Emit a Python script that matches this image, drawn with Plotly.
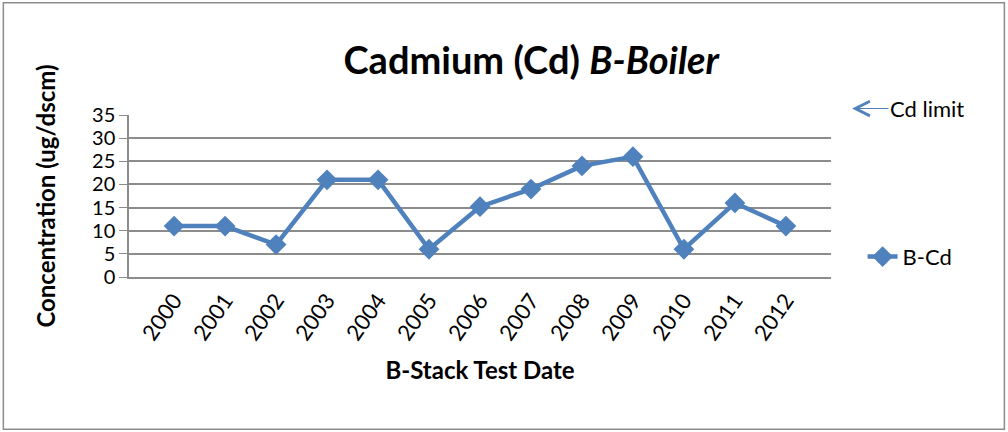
import plotly.graph_objects as go

years = ["2000", "2001", "2002", "2003", "2004", "2005", "2006",
         "2007", "2008", "2009", "2010", "2011", "2012"]
b_cd = [11, 11, 7, 21, 21, 6, 15.2, 19, 24, 26, 6, 16, 11]

blue = "#4F81BD"
grid = "#8C8C8C"
font_family = "Lato, 'Open Sans', sans-serif"

fig = go.Figure()

# B-Cd concentration per test year
fig.add_trace(
    go.Scatter(
        x=years,
        y=b_cd,
        mode="lines+markers",
        name="B-Cd",
        line=dict(color=blue, width=4.5),
        marker=dict(symbol="diamond", size=16, color=blue),
    )
)

# Cd limit legend entry (arrow, drawn as an annotation)
fig.add_annotation(
    xref="paper", yref="paper",
    x=1.03, y=1.04,
    ax=75, ay=0,
    text="Cd limit",
    showarrow=True,
    arrowhead=5,
    arrowsize=2.4,
    arrowwidth=1.2,
    arrowcolor=blue,
    font=dict(size=22, color="black"),
)

# outer chart border
fig.add_shape(
    type="rect", xref="paper", yref="paper",
    x0=-0.179, x1=1.247, y0=-0.94, y1=1.693,
    line=dict(color=grid, width=1.5),
)

fig.update_layout(
    width=1008,
    height=432,
    margin=dict(l=129, r=177, t=115, b=155),
    paper_bgcolor="white",
    plot_bgcolor="white",
    font=dict(family=font_family, size=22, color="black"),
    title=dict(
        text="<b>Cadmium (Cd) <i>B-Boiler</i></b>",
        x=0.527, xanchor="center",
        y=0.86, yanchor="middle",
        font=dict(size=38, color="black"),
    ),
    showlegend=True,
    legend=dict(
        x=1.045, y=0.125, xanchor="left", yanchor="middle",
        font=dict(size=22, color="black"),
        bgcolor="rgba(0,0,0,0)",
    ),
    xaxis=dict(
        type="category",
        tickangle=-55,
        showgrid=False,
        showline=True,
        linecolor=grid,
        linewidth=1.5,
        ticks="",
        title=dict(text="<b>B-Stack Test Date</b>", font=dict(size=24), standoff=18),
        tickfont=dict(size=22),
    ),
    yaxis=dict(
        range=[0, 35],
        dtick=5,
        showgrid=True,
        gridcolor=grid,
        gridwidth=1.5,
        showline=True,
        linecolor=grid,
        linewidth=1.5,
        ticks="outside",
        ticklen=8,
        tickcolor=grid,
        zeroline=False,
        title=dict(text="<b>Concentration (ug/dscm)</b>", font=dict(size=24), standoff=30),
        tickfont=dict(size=20),
    ),
)

fig.write_html(
    "out.html",
    config={"displayModeBar": False},
    post_script="document.body.style.margin='0';",
)
